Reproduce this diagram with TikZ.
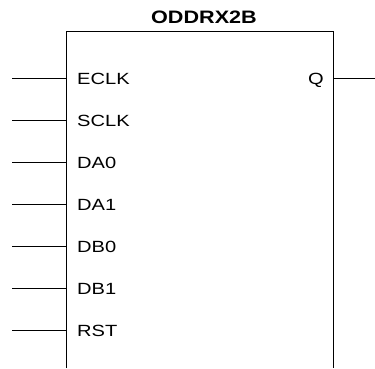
\documentclass[tikz,border=0pt]{standalone}
\usepackage{fontspec}
\newfontfamily\pinfont[FakeStretch=1.24]{Liberation Sans}
\newfontfamily\titlefont[FakeStretch=1.2]{Liberation Sans Bold}
\begin{document}
\begin{tikzpicture}[x=1pt,y=-1pt,
  wire/.style={line width=1.2pt,black},
  pinlabel/.style={anchor=base west,inner sep=0pt,font=\pinfont\fontsize{16.2}{17}\selectfont},
  titlelabel/.style={anchor=base,inner sep=0pt,font=\titlefont\fontsize{18}{19}\selectfont}]
\useasboundingbox (0,0) rectangle (375,368);
% block outline (open at bottom, continues off picture)
\draw[wire] (66.5,368) -- (66.5,31.5) -- (333.5,31.5) -- (333.5,368);
\node[titlelabel] (title) at (204,23) {ODDRX2B};
% pins
\foreach \nm/\yy in {ECLK/78.5,SCLK/120.5,DA0/162.5,DA1/204.5,DB0/246.5,DB1/288.5,RST/330.5}{
  \coordinate (p\nm) at (66.5,\yy);
  \coordinate (e\nm) at (12,\yy);
  \node[pinlabel] (l\nm) at (77,\yy+6) {\nm};
  \draw[wire] (e\nm) -- (p\nm);
}
\coordinate (pQ) at (333.5,78.5);
\coordinate (eQ) at (375,78.5);
\node[pinlabel,anchor=base east] (lQ) at (324,84.5) {Q};
\draw[wire] (pQ) -- (eQ);
\end{tikzpicture}
\end{document}
